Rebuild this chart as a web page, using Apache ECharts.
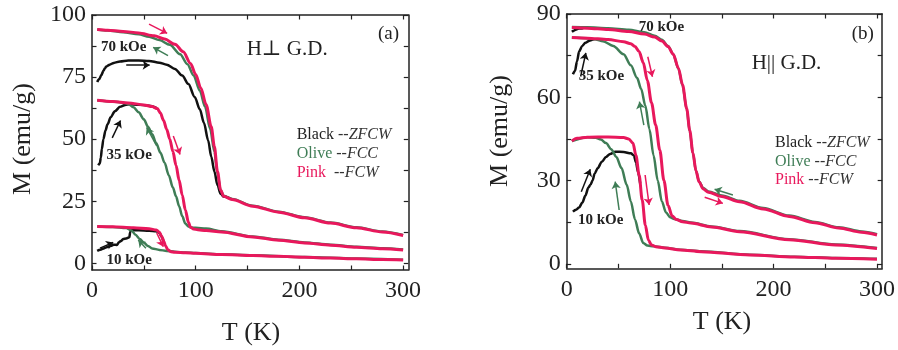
<!DOCTYPE html>
<html><head><meta charset="utf-8">
<script src="https://cdn.jsdelivr.net/npm/echarts@6/dist/echarts.min.js"></script>
<style>html,body{margin:0;padding:0;background:#fff}#c{width:898px;height:350px}</style>
</head><body><div id="c"></div>
<script>
// ---------- axis ticks ----------
const xTicks = [0, 50, 100, 150, 200, 250, 300];
const xLabels = [0, 100, 200, 300];
const yTicksA = [0, 12.5, 25, 37.5, 50, 62.5, 75, 87.5, 100];
const yLabelsA = [0, 25, 50, 75, 100];
const yTicksB = [0, 15, 30, 45, 60, 75, 90];
const yLabelsB = [0, 30, 60, 90];

// ---------- Panel (a): H perpendicular G.D. ----------
// 70 kOe
const a70_fcw_T = [5, 15, 30, 45, 60, 70, 80, 88, 95, 100, 105, 110, 115, 118, 121, 124, 127, 135, 155, 180, 205, 230, 255, 280, 300];
const a70_fcw_M = [94.2, 93.9, 93.4, 92.8, 91.6, 90.3, 88.2, 85.2, 80.5, 76, 70.5, 64, 55, 47, 37, 29.5, 27, 25.7, 23.0, 20.6, 18.3, 16.2, 14.3, 12.6, 11.2];
const a70_fcc_T = [5, 15, 30, 45, 55, 65, 75, 85, 92, 98, 104, 109, 114, 118, 121, 124, 127, 135, 155, 180, 205, 230, 255, 280, 300];
const a70_fcc_M = [94.2, 93.8, 93.1, 92.2, 91.2, 89.9, 88.0, 84.2, 80.2, 75.6, 69.5, 63, 54, 45, 36, 29.5, 27.2, 25.9, 23.2, 20.8, 18.5, 16.4, 14.5, 12.8, 11.4];
const a70_zfcw_T = [5, 7, 9, 11, 12.5, 14, 17, 21, 27, 35, 45, 55, 65, 72, 80, 87, 93, 99, 104, 108, 112, 115, 118, 121, 124, 127, 135];
const a70_zfcw_M = [73, 74.2, 75.8, 77.5, 78.6, 79.3, 80, 80.7, 81.3, 81.7, 81.7, 81.5, 80.8, 80, 78.3, 75.6, 72.2, 67, 62, 56.5, 49.5, 43, 37, 31.5, 28, 26.9, 25.7];
// 35 kOe
const a35_fcw_T = [5, 20, 35, 50, 58, 63, 66, 69, 72, 75, 78, 81, 84, 87, 90, 93, 95, 98, 102, 110, 125, 155, 180, 205, 230, 255, 280, 300];
const a35_fcw_M = [65.7, 65.2, 64.6, 63.8, 63.1, 62.3, 60.5, 57.5, 54, 50, 45, 39.5, 33.5, 27.5, 21.5, 16.5, 14.5, 13.8, 13.5, 13.2, 12.6, 10.6, 9.3, 8.2, 7.3, 6.5, 5.9, 5.4];
const a35_fcc_T = [5, 20, 30, 35, 40, 45, 50, 54, 58, 62, 66, 70, 74, 78, 81, 84, 87, 90, 93, 96, 100, 110, 125, 155, 180, 205, 230, 255, 280, 300];
const a35_fcc_M = [65.7, 65.2, 64.7, 64.2, 62.8, 60.8, 58, 55, 52, 48.3, 44.5, 40.5, 35.5, 30.5, 27, 23, 19, 16, 14.8, 14.4, 14.3, 14.0, 12.9, 10.8, 9.5, 8.4, 7.5, 6.7, 6.1, 5.6];
const a35_zfcw_T = [6, 7.5, 8.5, 9.5, 11, 13, 15, 18, 22, 27, 32, 36, 45, 55, 62];
const a35_zfcw_M = [39.5, 40.2, 42.5, 46, 50, 53.5, 56, 58.8, 61.2, 63, 63.8, 64.1, 63.9, 63.5, 62.6];
// 10 kOe
const a10_fcw_T = [5, 20, 40, 55, 62, 65, 67, 69, 71, 73, 76, 80, 90, 100, 125, 155, 180, 205, 230, 255, 280, 300];
const a10_fcw_M = [14.8, 14.7, 14.3, 13.9, 13.4, 12.5, 11, 9, 7, 5.5, 4.7, 4.4, 4.2, 4.0, 3.5, 3.1, 2.8, 2.4, 2.1, 1.8, 1.5, 1.3];
const a10_fcc_T = [5, 20, 33, 38, 42, 46, 50, 54, 58, 65, 72, 80, 90, 100, 125, 155, 205, 255, 300];
const a10_fcc_M = [14.8, 14.6, 14.2, 13.2, 11.5, 9.8, 8.3, 7, 6.0, 5.4, 5.0, 4.7, 4.3, 4.1, 3.6, 3.2, 2.5, 1.9, 1.4];
const a10_zfcw_T = [5, 8, 12, 15, 18, 21, 24, 26, 28, 30, 33, 36, 36.8, 37.5, 45, 55, 62, 65, 67, 69];
const a10_zfcw_M = [5.0, 5.5, 6.1, 6.6, 7.0, 7.5, 7.4, 8.5, 9.0, 9.8, 10.0, 10.5, 12.5, 13.4, 13.3, 13.1, 12.9, 12.2, 10.8, 8.8];

// ---------- Panel (b): H parallel G.D. ----------
const b70_fcw_T = [5, 20, 40, 60, 75, 85, 92, 98, 103, 108, 112, 116, 119, 122, 125, 128, 132, 137, 150, 167, 190, 215, 240, 263, 285, 300];
const b70_fcw_M = [85.1, 84.9, 84.4, 83.7, 82.8, 81.7, 80.3, 78.3, 75.5, 70.5, 64.5, 56, 48, 40, 33.5, 29.5, 27, 25.8, 24.3, 22.4, 19.8, 17.1, 14.8, 12.9, 11.4, 10.4];
const b70_fcc_T = [5, 20, 40, 60, 75, 85, 92, 98, 103, 108, 112, 116, 119, 122, 125, 128, 132, 137, 150, 167, 190, 215, 240, 263, 285, 300];
const b70_fcc_M = [85.3, 85.2, 84.9, 84.3, 83.4, 82.2, 80.7, 78.5, 75.5, 70.3, 64.2, 55.7, 47.7, 39.8, 33.5, 29.7, 27.3, 26.1, 24.6, 22.7, 20.1, 17.4, 15.1, 13.2, 11.7, 10.7];
const b70_zfcw_T = [5, 7, 9, 11, 13, 16];
const b70_zfcw_M = [83.6, 84.0, 84.4, 84.7, 84.8, 84.9];
const b35_fcw_T = [5, 20, 40, 55, 62, 66, 70, 74, 78, 82, 86, 90, 94, 98, 102, 106, 112, 120, 140, 167, 215, 260, 300];
const b35_fcw_M = [81.5, 81.3, 80.8, 80, 79.3, 78.3, 76.5, 72.5, 66, 58, 50, 41, 30, 21, 17.2, 16, 15.2, 14.7, 13.3, 11.6, 8.7, 6.8, 5.5];
const b35_fcc_T = [5, 20, 28, 35, 45, 55, 62, 68, 72, 76, 80, 84, 88, 92, 96, 100, 104, 112, 120, 140, 167, 215, 260, 300];
const b35_fcc_M = [81.5, 81.3, 80.8, 80.2, 78.5, 75.5, 71.5, 67, 63, 57, 48.5, 39, 30, 22.5, 18.5, 16.8, 16.2, 15.4, 14.9, 13.5, 11.8, 8.9, 7.0, 5.7];
const b35_zfcw_T = [6, 8, 10, 12, 15, 18, 22, 27];
const b35_zfcw_M = [68.3, 69.5, 73, 76.5, 78.5, 79.6, 80.4, 81];
const b10_fcw_T = [5, 10, 20, 40, 55, 60, 64, 67, 70, 73, 76, 79, 82, 86, 95, 110, 130, 177, 220, 260, 300];
const b10_fcw_M = [44.2, 45.2, 45.6, 45.7, 45.5, 45, 43.5, 39, 32, 23, 14, 8.5, 6.8, 6.2, 5.7, 5.0, 4.4, 3.2, 2.5, 2.0, 1.7];
const b10_fcc_T = [5, 20, 28, 33, 38, 43, 48, 53, 58, 62, 66, 70, 74, 78, 84, 95, 110, 130, 177, 220, 260, 300];
const b10_fcc_M = [44.2, 45.6, 45.4, 44.8, 43.5, 41.3, 38.5, 34.5, 28.5, 22.5, 16, 11, 7.5, 6.6, 6.3, 5.8, 5.1, 4.5, 3.3, 2.6, 2.1, 1.8];
const b10_zfcw_T = [6, 9, 12, 15, 18, 21, 23, 25, 27, 30, 34, 38, 42, 47, 55, 62, 65, 67, 69, 71];
const b10_zfcw_M = [18.8, 19.5, 20.3, 22, 24.5, 27.5, 28.5, 30, 32.5, 34.5, 36.8, 38.5, 39.6, 40.4, 40.3, 39.8, 39, 36.5, 33, 29];

// ---------- direction arrows [T1, M1, T2, M2, kind] ----------
const arrowsA = [
  [55.0, 96.3, 72.5, 92.6, 'fcw'],
  [73.3, 83.6, 59.0, 87.0, 'fcc'],
  [33.0, 79.8, 55.6, 79.8, 'zfcw'],
  [19.5, 50.5, 27.5, 57.5, 'zfcw'],
  [62.4, 47.3, 52.7, 54.7, 'fcc'],
  [78.4, 51.3, 84.9, 43.8, 'fcw'],
  [7.7, 6.1, 20.5, 8.4, 'zfcw'],
  [52.0, 6.1, 44.6, 9.4, 'fcc'],
  [62.4, 12.2, 68.8, 6.7, 'fcw']
];
const arrowsB = [
  [13.5, 67.5, 18.5, 76.0, 'zfcw'],
  [78.4, 74.6, 82.9, 67.4, 'fcw'],
  [74.6, 50.0, 70.3, 58.4, 'fcc'],
  [14.1, 26.0, 22.8, 34.1, 'zfcw'],
  [50.7, 19.4, 46.9, 29.6, 'fcc'],
  [75.8, 32.0, 79.7, 21.2, 'fcw'],
  [160.7, 24.8, 143.0, 26.9, 'fcc'],
  [133.4, 24.0, 151.0, 21.8, 'fcw']
];

// ---------- styling ----------
const COL = { fcw: '#E8185C', fcc: '#3F7D56', zfcw: '#111111' };
const WID = { fcw: 3, fcc: 2.5, zfcw: 2.5 };
const SERIF = "'Liberation Serif', 'DejaVu Serif', serif";

function pairs(T, M) { return T.map((t, i) => [t, M[i]]); }
function curve(T, M, kind, g) {
  return {
    type: 'line', xAxisIndex: g * 2, yAxisIndex: g * 2, data: pairs(T, M),
    showSymbol: false, symbol: 'none', smooth: 0.3, smoothMonotone: 'x',
    lineStyle: { color: COL[kind], width: WID[kind] }, silent: true, animation: false,
    z: kind === 'fcw' ? 4 : (kind === 'fcc' ? 3 : 2)
  };
}
function arrows(list, g) {
  return {
    type: 'lines', coordinateSystem: 'cartesian2d', xAxisIndex: g * 2, yAxisIndex: g * 2,
    symbol: ['none', 'arrow'], symbolSize: 7, animation: false, silent: true, z: 6,
    lineStyle: { opacity: 1, width: 1.5 },
    data: list.map(a => ({ coords: [[a[0], a[1]], [a[2], a[3]]], lineStyle: { color: COL[a[4]], width: 1.5, opacity: 1 } }))
  };
}

function xAx(g, pos) {
  return {
    type: 'value', gridIndex: g, position: pos, min: 0, max: 305,
    axisLine: { onZero: false, lineStyle: { color: '#222', width: 1.5 } },
    axisTick: { show: true, inside: true, length: 4.5, customValues: xTicks, lineStyle: { color: '#222', width: 1.2 } },
    axisLabel: { show: pos === 'bottom', customValues: xLabels, fontFamily: SERIF, fontSize: 24, color: '#222', margin: 9 },
    splitLine: { show: false }
  };
}
function yAx(g, pos, min, max, ticks, labels) {
  return {
    type: 'value', gridIndex: g, position: pos, min: min, max: max,
    axisLine: { onZero: false, lineStyle: { color: '#222', width: 1.5 } },
    axisTick: { show: true, inside: true, length: 4.5, customValues: ticks, lineStyle: { color: '#222', width: 1.2 } },
    axisLabel: { show: pos === 'left', customValues: labels, fontFamily: SERIF, fontSize: 24, color: '#222', margin: 6 },
    splitLine: { show: false }
  };
}

function txt(x, y, text, font, fill) {
  return {
    type: 'text', x: x, y: y, silent: true,
    style: { text: text, font: font, fill: fill, align: 'left', verticalAlign: 'middle', textAlign: 'left', textVerticalAlign: 'middle' }
  };
}
function legendText(x, y, word, wordColor, code) {
  return {
    type: 'text', x: x, y: y, silent: true,
    style: {
      text: '{w|' + word + '} {d|--}{i|' + code + '}',
      font: '16px ' + SERIF, fill: '#333',
      verticalAlign: 'middle', textVerticalAlign: 'middle',
      rich: {
        w: { font: '16px ' + SERIF, fill: wordColor, color: wordColor },
        d: { font: '16px ' + SERIF, fill: '#333', color: '#333' },
        i: { font: 'italic 16px ' + SERIF, fill: '#333', color: '#333' }
      }
    }
  };
}
function center(x, y, text, font, rot) {
  return {
    type: 'text', x: x, y: y, rotation: rot || 0, silent: true,
    style: { text: text, font: font, fill: '#222', align: 'center', verticalAlign: 'middle', textAlign: 'center', textVerticalAlign: 'middle' }
  };
}

const BOLD = "bold 15px " + SERIF;
const option = {
  animation: false,
  backgroundColor: '#fff',
  grid: [
    { left: 92, top: 15, width: 316.3, height: 255 },
    { left: 566.7, top: 14, width: 316.6, height: 254.3 }
  ],
  xAxis: [xAx(0, 'bottom'), xAx(0, 'top'), xAx(1, 'bottom'), xAx(1, 'top')],
  yAxis: [
    yAx(0, 'left', -2.7, 100, yTicksA, yLabelsA), yAx(0, 'right', -2.7, 100, yTicksA, yLabelsA),
    yAx(1, 'left', -1.6, 90, yTicksB, yLabelsB), yAx(1, 'right', -1.6, 90, yTicksB, yLabelsB)
  ],
  series: [
    curve(a70_zfcw_T, a70_zfcw_M, 'zfcw', 0), curve(a35_zfcw_T, a35_zfcw_M, 'zfcw', 0), curve(a10_zfcw_T, a10_zfcw_M, 'zfcw', 0),
    curve(a70_fcc_T, a70_fcc_M, 'fcc', 0), curve(a35_fcc_T, a35_fcc_M, 'fcc', 0), curve(a10_fcc_T, a10_fcc_M, 'fcc', 0),
    curve(a70_fcw_T, a70_fcw_M, 'fcw', 0), curve(a35_fcw_T, a35_fcw_M, 'fcw', 0), curve(a10_fcw_T, a10_fcw_M, 'fcw', 0),
    curve(b70_zfcw_T, b70_zfcw_M, 'zfcw', 1), curve(b35_zfcw_T, b35_zfcw_M, 'zfcw', 1), curve(b10_zfcw_T, b10_zfcw_M, 'zfcw', 1),
    curve(b70_fcc_T, b70_fcc_M, 'fcc', 1), curve(b35_fcc_T, b35_fcc_M, 'fcc', 1), curve(b10_fcc_T, b10_fcc_M, 'fcc', 1),
    curve(b70_fcw_T, b70_fcw_M, 'fcw', 1), curve(b35_fcw_T, b35_fcw_M, 'fcw', 1), curve(b10_fcw_T, b10_fcw_M, 'fcw', 1),
    arrows(arrowsA, 0), arrows(arrowsB, 1)
  ],
  graphic: [
    // panel (a)
    txt(101, 47, '70 kOe', BOLD, '#222'),
    txt(106.5, 155.5, '35 kOe', BOLD, '#222'),
    txt(106.5, 260, '10 kOe', BOLD, '#222'),
    txt(246.7, 49, 'H\u22A5 G.D.', '21px ' + SERIF, '#222'),
    txt(378, 34, '(a)', '19px ' + SERIF, '#222'),
    legendText(296.7, 135, 'Black', '#222', 'ZFCW'),
    legendText(296.7, 154, 'Olive', COL.fcc, 'FCC'),
    legendText(296.7, 172.7, 'Pink ', COL.fcw, 'FCW'),
    center(23, 139, 'M (emu/g)', '26px ' + SERIF, Math.PI / 2),
    center(251, 333, 'T (K)', '26px ' + SERIF, 0),
    // panel (b)
    txt(638.7, 27.5, '70 kOe', BOLD, '#222'),
    txt(578.7, 76, '35 kOe', BOLD, '#222'),
    txt(578, 220.5, '10 kOe', BOLD, '#222'),
    txt(751.7, 63, 'H|| G.D.', '21px ' + SERIF, '#222'),
    txt(851.7, 34, '(b)', '19px ' + SERIF, '#222'),
    legendText(775, 142.7, 'Black', '#222', 'ZFCW'),
    legendText(775, 161.7, 'Olive', COL.fcc, 'FCC'),
    legendText(775, 180, 'Pink', COL.fcw, 'FCW'),
    center(500, 131, 'M (emu/g)', '26px ' + SERIF, Math.PI / 2),
    center(722, 322, 'T (K)', '26px ' + SERIF, 0)
  ]
};
const chart = echarts.init(document.getElementById('c'), null, { renderer: 'canvas' });
chart.setOption(option);
</script>
</body></html>
